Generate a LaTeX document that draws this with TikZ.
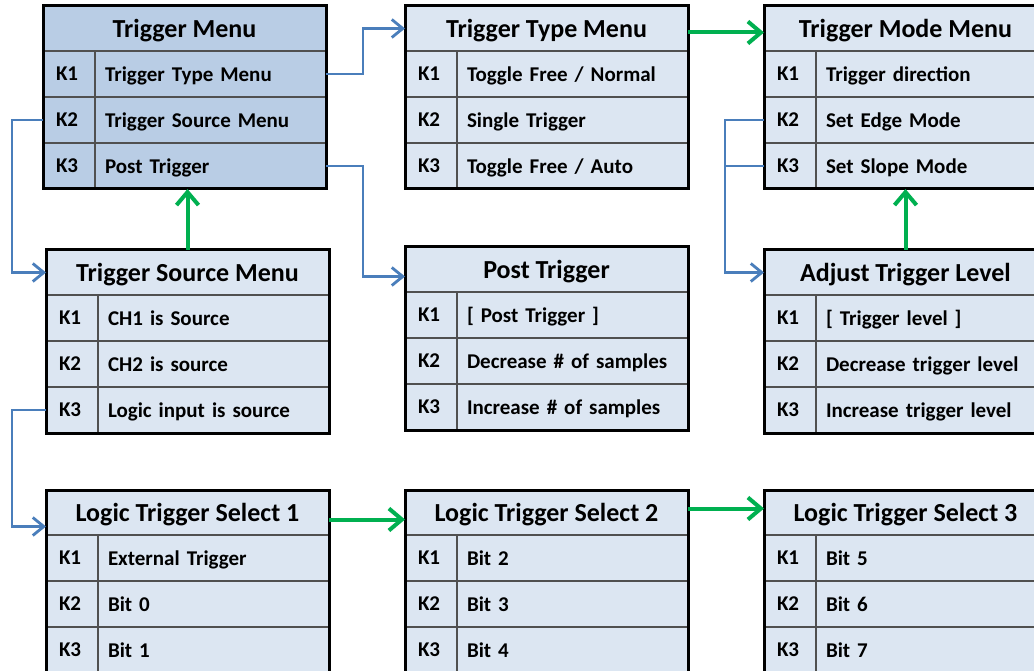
\documentclass[tikz,border=0pt]{standalone}
\usepackage{fontspec}
\setmainfont{Carlito}
\usetikzlibrary{arrows.meta,positioning}
\definecolor{menudark}{HTML}{B9CDE5}
\definecolor{menulight}{HTML}{DCE6F2}
\definecolor{rowline}{HTML}{505050}
\definecolor{linkblue}{HTML}{4A7EBB}
\definecolor{linkgreen}{HTML}{00B050}
\tikzset{
  >=Straight Barb[],
  cell/.style={draw=rowline, line width=1.4pt, outer sep=0pt, minimum height=46pt,
    inner ysep=0pt, text depth=0pt, font=\fontsize{21}{25}\selectfont\bfseries},
  headcell/.style={cell, minimum width=283pt, minimum height=45pt,
    font=\fontsize{26}{31}\selectfont\bfseries},
  keycell/.style={cell, minimum width=52pt, text width=26pt, inner xsep=13pt, align=left},
  itemcell/.style={cell, minimum width=231pt, text width=211pt, inner xsep=10pt, align=left},
  sublink/.style={->, draw=linkblue, line width=2.8pt,
    >={Straight Barb[length=11pt,width=18pt]}},
  backlink/.style={->, draw=linkgreen, line width=4pt,
    >={Straight Barb[length=13pt,width=22pt]}},
}
% one menu: name, x, y (top left), fill, title, K1, K2, K3
\newcommand\menubox[8]{%
  \node[headcell, fill=#4, anchor=north west] (#1) at (#2,#3) {#5};
  \node[keycell, fill=#4, below=0pt of #1.south west, anchor=north west] (#1-k1) {K1};
  \node[itemcell, fill=#4, right=0pt of #1-k1] (#1-1) {#6};
  \node[keycell, fill=#4, below=0pt of #1-k1] (#1-k2) {K2};
  \node[itemcell, fill=#4, right=0pt of #1-k2] (#1-2) {#7};
  \node[keycell, fill=#4, below=0pt of #1-k2] (#1-k3) {K3};
  \node[itemcell, fill=#4, right=0pt of #1-k3] (#1-3) {#8};
  \draw[line width=3pt] (#1.north west) rectangle (#1-3.south east);
}

\begin{document}
\begin{tikzpicture}[x=1pt, y=-1pt]
  \useasboundingbox (0,0) rectangle (1034,671);
  \fill[white] (0,0) rectangle (1034,671);
  \clip (0,0) rectangle (1034,671);

  \menubox{tm}{43}{6}{menudark}{Trigger Menu}{Trigger Type Menu}{Trigger Source Menu}{Post Trigger}
  \menubox{ttm}{405}{6}{menulight}{Trigger Type Menu}{Toggle Free / Normal}{Single Trigger}{Toggle Free / Auto}
  \menubox{tmm}{764}{6}{menulight}{Trigger Mode Menu}{Trigger direction}{Set Edge Mode}{Set Slope Mode}
  \menubox{tsm}{46}{250}{menulight}{Trigger Source Menu}{CH1 is Source}{CH2 is source}{Logic input is source}
  \menubox{pt}{405}{247}{menulight}{Post Trigger}{[ Post Trigger ]}{Decrease \# of samples}{Increase \# of samples}
  \menubox{atl}{764}{250}{menulight}{Adjust Trigger Level}{[ Trigger level ]}{Decrease trigger level}{Increase trigger level}
  \menubox{lts1}{46}{490}{menulight}{Logic Trigger Select 1}{External Trigger}{Bit 0}{Bit 1}
  \menubox{lts2}{405}{490}{menulight}{Logic Trigger Select 2}{Bit 2}{Bit 3}{Bit 4}
  \menubox{lts3}{764}{490}{menulight}{Logic Trigger Select 3}{Bit 5}{Bit 6}{Bit 7}

  % sub menus
  \draw[sublink] (tm-1.east) -- ++(37,0) |- (ttm.west);
  \draw[sublink] (tm-k2.west) -- ++(-31,0) |- (tsm.west);
  \draw[sublink] (tm-3.east) -- ++(37,0) |- ([yshift=-7pt]pt.west);
  \draw[sublink] (tmm-k2.west) -- ++(-39,0) |- (atl.west);
  \draw[sublink, -] (tmm-k3.west) -- ++(-39,0);
  \draw[sublink] (tsm-k3.west) -- ++(-34,0) |- ([yshift=-14pt]lts1.west);

  % next / back
  \draw[backlink] (tsm.north) -- (tsm.north |- tm-3.south);
  \draw[backlink] ([yshift=-4pt]ttm.east) -- ([yshift=-4pt]tmm.west);
  \draw[backlink] (atl.north) -- (atl.north |- tmm-3.south);
  \draw[backlink] ([yshift=-7pt]lts1.east) -- ([yshift=-7pt]lts2.west);
  \draw[backlink] ([yshift=4pt]lts2.east) -- ([yshift=4pt]lts3.west);
\end{tikzpicture}
\end{document}
